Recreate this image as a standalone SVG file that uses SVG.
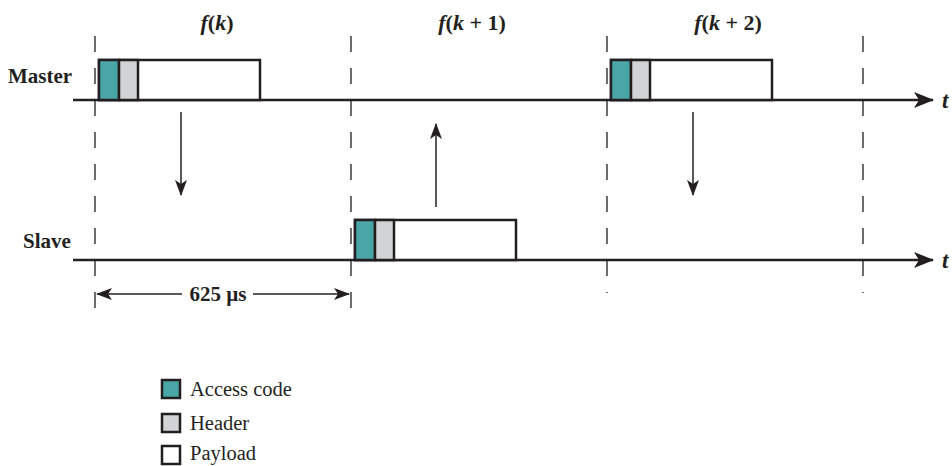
<svg xmlns="http://www.w3.org/2000/svg" width="952" height="466" viewBox="0 0 952 466">
<defs>
<style>
.lbl{font-family:"Liberation Serif","Times New Roman",serif;font-weight:bold;font-size:21px;fill:#231f20}
.tl{font-family:"Liberation Serif","Times New Roman",serif;font-weight:bold;font-style:italic;font-size:23px;fill:#231f20}
.fl{font-family:"Liberation Serif","Times New Roman",serif;font-weight:bold;font-size:22px;fill:#231f20}
.leg{font-family:"Liberation Serif","Times New Roman",serif;font-size:20.5px;fill:#231f20}
.it{font-style:italic}
.axis{stroke:#231f20;stroke-width:2.5;fill:none}
.dash{stroke:#231f20;stroke-width:1.3;stroke-dasharray:16 16;fill:none}
.arr{stroke:#231f20;stroke-width:1.5;fill:none}
.box{stroke:#231f20;stroke-width:2.5}
.ac{fill:#48a6a6}
.hd{fill:#d1d3d4}
.pl{fill:#ffffff}
</style>
<marker id="ah" viewBox="0 0 16 12" refX="15" refY="6" markerWidth="16" markerHeight="12" markerUnits="userSpaceOnUse" orient="auto">
<path d="M0,0 L16,6 L0,12 L4,6 Z" fill="#231f20"/>
</marker>
<marker id="ahs" viewBox="0 0 16 12" refX="15" refY="6" markerWidth="16" markerHeight="12" markerUnits="userSpaceOnUse" orient="auto-start-reverse">
<path d="M0,0 L16,6 L0,12 L4,6 Z" fill="#231f20"/>
</marker>
<marker id="ahb" viewBox="0 0 20 16" refX="19" refY="8" markerWidth="20" markerHeight="16" markerUnits="userSpaceOnUse" orient="auto">
<path d="M0,0 L20,8 L0,16 L5,8 Z" fill="#231f20"/>
</marker>
</defs>
<rect width="952" height="466" fill="#ffffff"/>

<g id="grid">
<line class="dash" x1="95" y1="36" x2="95" y2="308"/>
<line class="dash" x1="351" y1="36" x2="351" y2="308"/>
<line class="dash" x1="607" y1="36" x2="607" y2="293"/>
<line class="dash" x1="863" y1="36" x2="863" y2="293"/>
</g>

<g id="frame-labels">
<text class="fl" x="217" y="30" text-anchor="middle"><tspan class="it">f</tspan>(<tspan class="it">k</tspan>)</text>
<text class="fl" x="472" y="30" text-anchor="middle"><tspan class="it">f</tspan>(<tspan class="it">k</tspan> + 1)</text>
<text class="fl" x="728" y="30" text-anchor="middle"><tspan class="it">f</tspan>(<tspan class="it">k</tspan> + 2)</text>
</g>

<g id="master-axis">
<text class="lbl" x="8" y="83">Master</text>
<line class="axis" x1="73" y1="100" x2="933" y2="100" marker-end="url(#ahb)"/>
<text class="tl" x="942" y="108">t</text>
</g>

<g id="slave-axis">
<text class="lbl" x="23" y="248">Slave</text>
<line class="axis" x1="73" y1="260" x2="933" y2="260" marker-end="url(#ahb)"/>
<text class="tl" x="942" y="268">t</text>
</g>

<g id="packet-master-1">
<rect class="box pl" x="99" y="60" width="161" height="40"/>
<rect class="box ac" x="99" y="60" width="20" height="40"/>
<rect class="box hd" x="119" y="60" width="19" height="40"/>
</g>

<g id="packet-slave">
<rect class="box pl" x="355" y="220" width="161" height="40"/>
<rect class="box ac" x="355" y="220" width="20" height="40"/>
<rect class="box hd" x="375" y="220" width="19" height="40"/>
</g>

<g id="packet-master-3">
<rect class="box pl" x="611" y="60" width="161" height="40"/>
<rect class="box ac" x="611" y="60" width="20" height="40"/>
<rect class="box hd" x="631" y="60" width="19" height="40"/>
</g>

<g id="connectors">
<line class="arr" x1="181" y1="112" x2="181" y2="195" marker-end="url(#ah)"/>
<line class="arr" x1="436" y1="207" x2="436" y2="124" marker-end="url(#ah)"/>
<line class="arr" x1="693" y1="112" x2="693" y2="195" marker-end="url(#ah)"/>
</g>

<g id="dimension">
<line class="arr" x1="97" y1="294" x2="182" y2="294" marker-start="url(#ahs)"/>
<line class="arr" x1="253" y1="294" x2="349" y2="294" marker-end="url(#ah)"/>
<text class="lbl" x="218" y="301" text-anchor="middle">625 µs</text>
</g>

<g id="legend">
<rect class="box ac" x="162" y="380" width="18" height="18" stroke-width="2"/>
<text class="leg" x="190" y="396">Access code</text>
<rect class="box hd" x="162" y="414" width="18" height="18" stroke-width="2"/>
<text class="leg" x="190" y="430">Header</text>
<rect class="box pl" x="162" y="446" width="18" height="18" stroke-width="2"/>
<text class="leg" x="190" y="460">Payload</text>
</g>
</svg>
